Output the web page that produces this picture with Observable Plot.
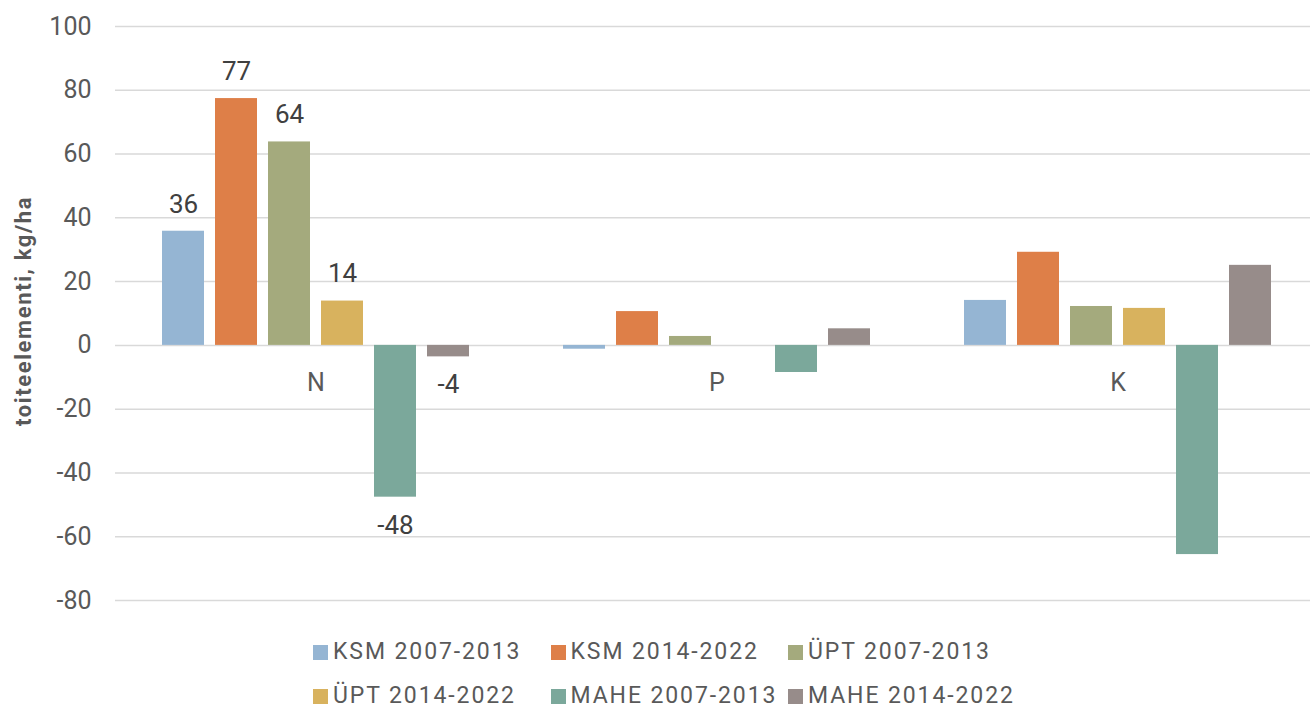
<!DOCTYPE html>
<html>
<head>
<meta charset="utf-8">
<script src="https://cdn.jsdelivr.net/npm/d3@7"></script>
<script src="https://cdn.jsdelivr.net/npm/@observablehq/plot@0.6"></script>
<style>
  html, body { margin: 0; padding: 0; background: #fff; overflow: hidden; width: 1310px; height: 710px; }
  #wrap { position: relative; width: 1310px; height: 710px; overflow: hidden; }
  #chart svg { max-width: none !important; }
  #title { position: absolute; left: 23px; top: 311px; transform: translate(-50%, -50%) rotate(-90deg);
    font: bold 22px Roboto, sans-serif; letter-spacing: 1.6px; color: #595959; white-space: nowrap; }
  #legend { position: absolute; left: 313px; top: 630px; display: grid; grid-template-columns: 237.5px 237.5px 237.5px;
    grid-auto-rows: 44px; font: 23px Roboto, sans-serif; line-height: 20px; letter-spacing: 1.9px; color: #595959; }
  .item { display: flex; align-items: center; white-space: nowrap; }
  .sw { width: 15px; height: 15px; margin-right: 5px; flex: none; }
</style>
</head>
<body>
<div id="wrap">
  <div id="chart"></div>
  <div id="title">toiteelementi, kg/ha</div>
  <div id="legend"></div>
</div>
<script>
const elements = ["N", "P", "K"];
const series = ["KSM 2007-2013", "KSM 2014-2022", "ÜPT 2007-2013", "ÜPT 2014-2022", "MAHE 2007-2013", "MAHE 2014-2022"];
const colors = ["#95B5D3", "#DE7F48", "#A4AA7D", "#D8B25E", "#7BA89B", "#978C8A"];
const nValues = [35.8, 77.4, 63.8, 13.9, -47.6, -3.6];
const pValues = [-1.2, 10.6, 2.8, 0, -8.5, 5.2];
const kValues = [14.1, 29.2, 12.2, 11.6, -65.6, 25.1];
const yTicks = [-80, -60, -40, -20, 0, 20, 40, 60, 80, 100];

const valuesByElement = {N: nValues, P: pValues, K: kValues};
const data = [];
for (const e of elements) series.forEach((s, i) => data.push({element: e, series: s, value: valuesByElement[e][i]}));
const labelled = data.filter(d => d.element === "N");
const fmt = v => String(Math.round(v));

const chart = Plot.plot({
  width: 1318,
  height: 620,
  marginLeft: 114,
  marginRight: 0,
  marginTop: 26,
  marginBottom: 20,
  style: {fontFamily: "Roboto, sans-serif", fontSize: "25px", color: "#595959", background: "#fff", maxWidth: "none"},
  fx: {domain: elements, padding: 0, axis: null},
  x: {domain: series, paddingInner: 0.21, paddingOuter: 0.875, axis: null},
  y: {domain: [-80, 100], ticks: yTicks, tickSize: 0, tickPadding: 24, label: null, tickFormat: d => String(d)},
  color: {domain: series, range: colors},
  marks: [
    Plot.ruleY(yTicks, {stroke: "#d9d9d9", strokeWidth: 1.5}),
    Plot.barY(data, {fx: "element", x: "series", y: "value", fill: "series"}),
    Plot.text(labelled.filter(d => d.value >= 0), {fx: "element", x: "series", y: "value", text: d => fmt(d.value), dy: -27, fill: "#404040", fontSize: 26}),
    Plot.text(labelled.filter(d => d.value < 0), {fx: "element", x: "series", y: "value", text: d => fmt(d.value), dy: 28, fill: "#404040", fontSize: 26}),
    Plot.text(elements, {fx: d => d, y: () => 0, text: d => d, dy: 38, fill: "#595959", fontSize: 25})
  ]
});
document.getElementById("chart").appendChild(chart);

const legend = document.getElementById("legend");
series.forEach((s, i) => {
  const item = document.createElement("div");
  item.className = "item";
  const sw = document.createElement("span");
  sw.className = "sw";
  sw.style.background = colors[i];
  const t = document.createElement("span");
  t.textContent = s;
  item.appendChild(sw);
  item.appendChild(t);
  legend.appendChild(item);
});
</script>
</body>
</html>
